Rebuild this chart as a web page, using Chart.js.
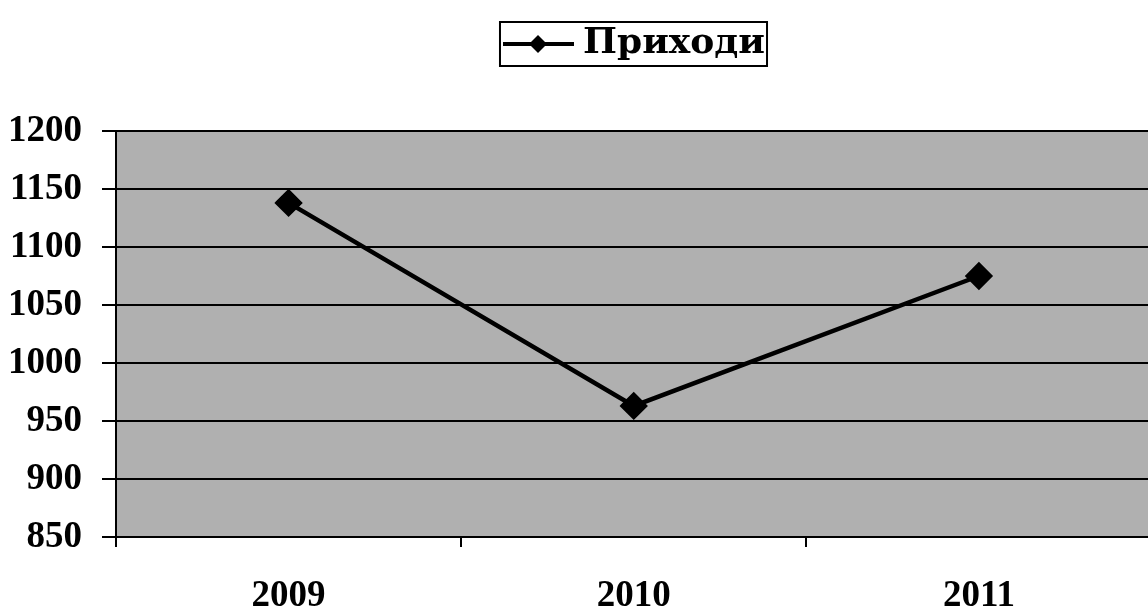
<!DOCTYPE html>
<html>
<head>
<meta charset="utf-8">
<script src="https://cdn.jsdelivr.net/npm/chart.js@4/dist/chart.umd.min.js"></script>
<style>
  html, body { margin: 0; padding: 0; background: #fff; overflow: hidden; }
  #wrap { position: relative; width: 1167px; height: 610px; }
</style>
</head>
<body>
<div id="wrap"><canvas id="c"></canvas></div>
<script>
const categories = ['2009', '2010', '2011'];
const seriesName = 'Приходи';
const incomeValues = [1138, 963, 1075];
const yTicks = [850, 900, 950, 1000, 1050, 1100, 1150, 1200];

const FONT = '"Liberation Serif", "DejaVu Serif", serif';
const LFONT = '"DejaVu Serif", "Liberation Serif", serif';

// legend symbol: line with diamond
const sym = document.createElement('canvas');
sym.width = 80; sym.height = 24;
(function(){
  const g = sym.getContext('2d');
  g.strokeStyle = '#000'; g.lineWidth = 4;
  g.beginPath(); g.moveTo(9, 12); g.lineTo(80, 12); g.stroke();
  g.fillStyle = '#000';
  g.beginPath(); g.moveTo(44, 3); g.lineTo(53, 12); g.lineTo(44, 21); g.lineTo(35, 12); g.closePath(); g.fill();
})();

const bgPlugin = {
  id: 'bg',
  afterUpdate(chart) {
    const lg = chart.legend;
    if (!lg || !lg.legendHitBoxes || !lg.legendHitBoxes.length) return;
    const a = chart.chartArea;
    const hb = lg.legendHitBoxes[0];
    const centre = (a.left + a.right) / 2;
    const dx = Math.round(centre - (hb.left + hb.width / 2));
    const dy = Math.round(26 - hb.top);
    lg.left += dx; lg.right += dx; lg.top += dy; lg.bottom += dy;
    for (const h of lg.legendHitBoxes) { h.left += dx; h.top += dy; }
  },
  beforeDraw(chart) {
    const {ctx, chartArea: a} = chart;
    ctx.save();
    ctx.fillStyle = '#b0b0b0';
    ctx.fillRect(a.left, a.top, a.right - a.left, a.bottom - a.top);
    ctx.restore();
  },
  afterDraw(chart) {
    const lg = chart.legend;
    if (!lg || !lg.legendHitBoxes || !lg.legendHitBoxes.length) return;
    const hb = lg.legendHitBoxes[0];
    const ctx = chart.ctx;
    ctx.save();
    ctx.strokeStyle = '#000'; ctx.lineWidth = 2;
    ctx.strokeRect(hb.left - 3, hb.top - 4, hb.width + 5, hb.height + 8);
    ctx.restore();
  }
};

new Chart(document.getElementById('c'), {
  type: 'line',
  data: {
    labels: categories,
    datasets: [{
      label: seriesName,
      data: incomeValues,
      borderColor: '#000',
      backgroundColor: '#000',
      borderWidth: 4.5,
      pointStyle: 'rectRot',
      pointRadius: 11,
      pointBackgroundColor: '#000',
      pointBorderColor: '#000',
      tension: 0
    }]
  },
  options: {
    responsive: true,
    maintainAspectRatio: false,
    animation: false,
    layout: { padding: { top: 33, right: 7, left: 0, bottom: 0 } },
    plugins: {
      tooltip: { enabled: false },
      legend: {
        position: 'top',
        labels: {
          usePointStyle: true,
          pointStyle: sym,
          pointStyleWidth: 62,
          color: '#000',
          font: { family: LFONT, size: 36, weight: 'bold' },
          padding: 52,
          generateLabels(chart) {
            return [{ text: seriesName, pointStyle: sym, fillStyle: '#000', strokeStyle: '#000', lineWidth: 0, datasetIndex: 0, fontColor: '#000' }];
          }
        }
      }
    },
    scales: {
      x: {
        offset: true,
        grid: { display: true, offset: true, drawOnChartArea: false, drawTicks: true, tickLength: 10, color: '#000', lineWidth: 2 },
        border: { display: true, color: '#000', width: 2 },
        ticks: { color: '#000', font: { family: FONT, size: 37, weight: 'bold' }, padding: 27, maxRotation: 0 },
        afterFit(s) { s.height = 73; }
      },
      y: {
        min: yTicks[0],
        max: yTicks[yTicks.length - 1],
        afterBuildTicks(s) { s.ticks = yTicks.map(v => ({ value: v })); },
        grid: { color: '#000', lineWidth: 2, tickLength: 14, drawTicks: true },
        border: { display: true, color: '#000', width: 2 },
        ticks: { color: '#000', font: { family: FONT, size: 37, weight: 'bold' }, padding: 20, callback: v => String(v) },
        afterFit(s) { s.width = 116; }
      }
    }
  },
  plugins: [bgPlugin]
});
</script>
</body>
</html>
